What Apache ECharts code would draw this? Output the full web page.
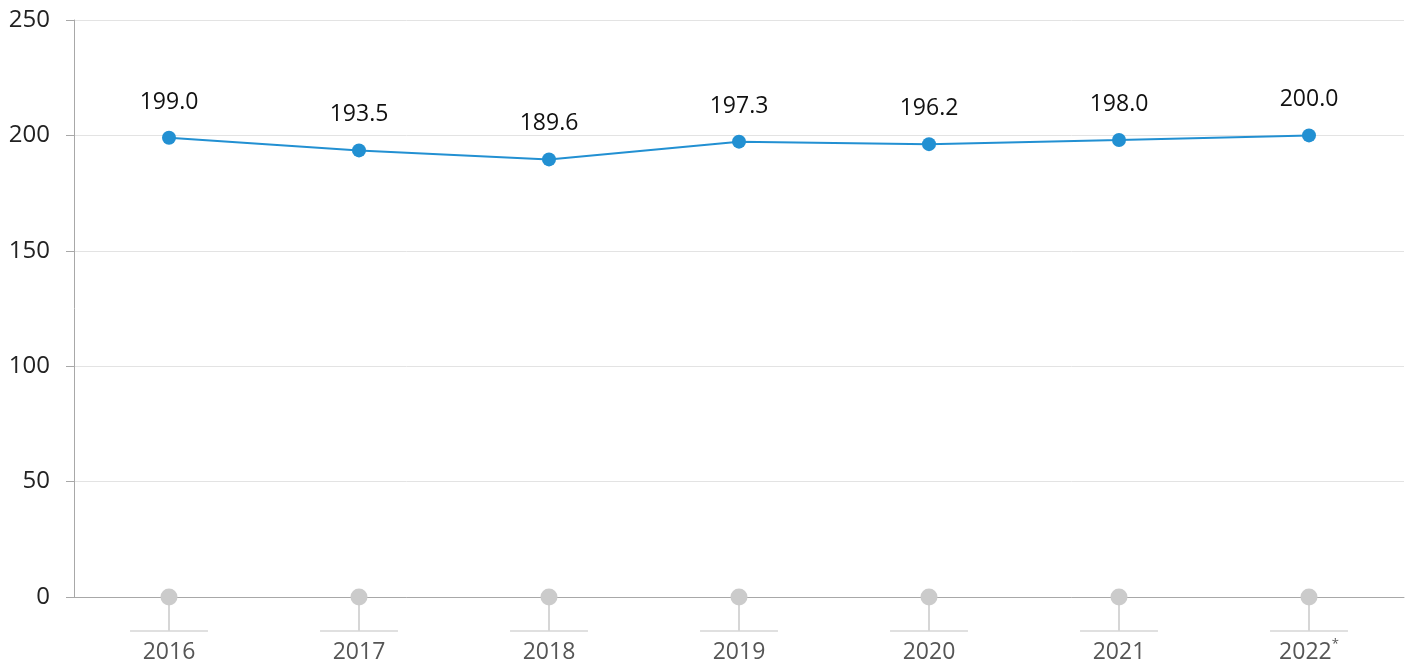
<!DOCTYPE html>
<html><head><meta charset="utf-8">
<script src="https://cdn.jsdelivr.net/npm/echarts@6/dist/echarts.min.js"></script>
<style>html,body{margin:0;padding:0;background:#fff}#c{width:1408px;height:667px}</style>
</head><body><div id="c"></div>
<script>
var categories = ['2016','2017','2018','2019','2020','2021','2022*'];
var values = [199.0, 193.5, 189.6, 197.3, 196.2, 198.0, 200.0];
var baseValues = [0,0,0,0,0,0,0];
var yTicks = [0,50,100,150,200,250];

var chart = echarts.init(document.getElementById('c'));
var font = '"Open Sans", "Noto Sans", sans-serif';
chart.setOption({
  animation: false,
  grid: {left: 74, right: 4, top: 20, bottom: 70},
  xAxis: {
    type: 'category', data: categories, boundaryGap: true,
    axisLine: {show: true, lineStyle: {color: '#a8a8a8', width: 1}},
    axisTick: {show: false},
    axisLabel: {
      interval: 0, hideOverlap: false,
      margin: 41, color: '#555', fontSize: 23, fontFamily: font, lineHeight: 28,
      formatter: function (v) {
        if (v.indexOf('*') >= 0) return '{n|' + v.replace('*','') + '}{s|*}';
        return '{n|' + v + '}';
      },
      rich: {
        n: {fontSize: 23, color: '#555', fontFamily: font, lineHeight: 28},
        s: {fontSize: 13, color: '#555', fontFamily: font, lineHeight: 16, verticalAlign: 'top'}
      }
    }
  },
  yAxis: {
    type: 'value', min: 0, max: 250, interval: 50,
    axisLine: {show: true, lineStyle: {color: '#a8a8a8', width: 1}},
    axisTick: {show: true, length: 8, lineStyle: {color: '#a8a8a8'}},
    splitLine: {lineStyle: {color: '#e3e3e3', width: 1}},
    axisLabel: {margin: 24, color: '#222', fontSize: 24, fontFamily: font}
  },
  series: [
    {
      type: 'custom', clip: false, z: 1,
      data: baseValues.map(function (v, i) { return [i, v]; }),
      renderItem: function (params, api) {
        var p = api.coord([api.value(0), api.value(1)]);
        var bw = api.size([1, 0])[0];
        var half = bw * 0.205;
        return {
          type: 'group',
          children: [
            {type: 'line', shape: {x1: p[0], y1: p[1], x2: p[0], y2: p[1] + 34}, style: {stroke: '#d6d6d6', lineWidth: 2}},
            {type: 'line', shape: {x1: p[0] - half, y1: p[1] + 34, x2: p[0] + half, y2: p[1] + 34}, style: {stroke: '#d6d6d6', lineWidth: 1.5}},
            {type: 'circle', shape: {cx: p[0], cy: p[1], r: 8.5}, style: {fill: '#cbcbcb'}}
          ]
        };
      }
    },
    {
      type: 'line', data: values, z: 3,
      symbol: 'circle', symbolSize: 14,
      lineStyle: {color: '#2290d2', width: 2},
      itemStyle: {color: '#2290d2'},
      label: {
        show: true, position: 'top', distance: 17,
        color: '#111', fontSize: 23, fontFamily: font,
        formatter: function (p) { return p.value.toFixed(1); }
      }
    }
  ]
});
</script></body></html>
